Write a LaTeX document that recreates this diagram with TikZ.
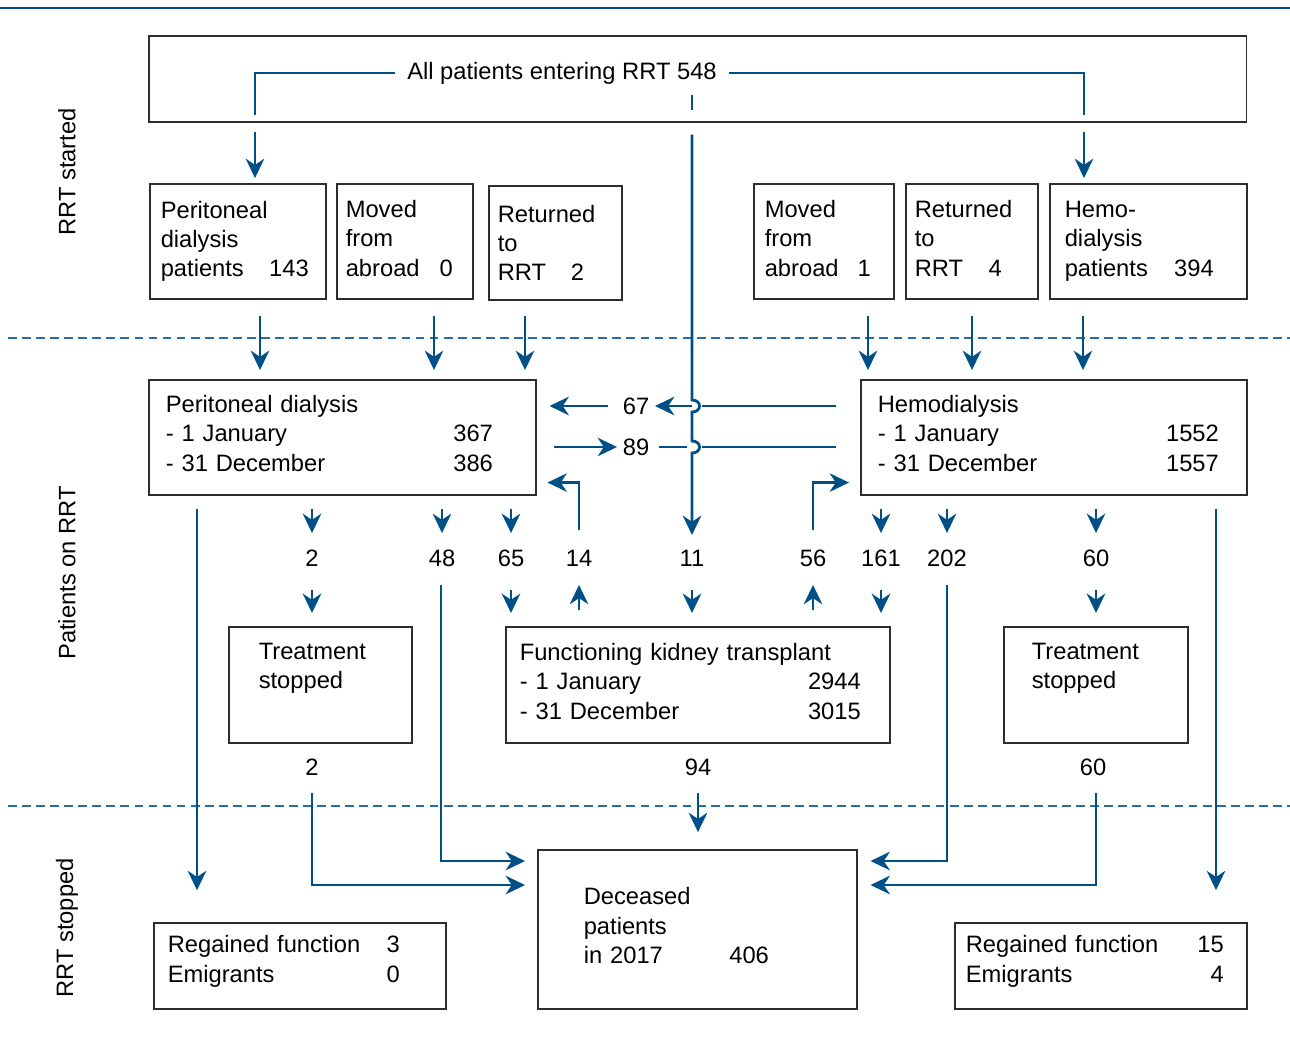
\documentclass[tikz,border=0pt]{standalone}
\usepackage{fontspec}
\setmainfont{Liberation Sans}
\usetikzlibrary{arrows.meta,calc}
\definecolor{rrtblue}{RGB}{0,80,135}
\definecolor{sepblue}{RGB}{40,110,165}
\definecolor{boxgray}{RGB}{45,45,45}
\newcommand{\rnum}[2][0pt]{\hfill#2\kern#1\relax}
\tikzset{
  cbox/.style={draw=boxgray,line width=0.9pt,anchor=north west,align=left},
  lift/.style={execute at end node={\par\kern#1\relax}},
  num/.style={inner sep=2pt},
  arr/.style={-{Stealth[length=11pt,width=10.5pt,inset=3.5pt]},line width=1.6pt,draw=rrtblue},
  conn/.style={line width=1.6pt,draw=rrtblue},
  sepline/.style={draw=sepblue,line width=0.9pt,dash pattern=on 5pt off 3pt},
}

\begin{document}
\begin{tikzpicture}[x=0.02cm,y=-0.02cm,font=\fontsize{13.5}{16.7}\selectfont]
  \useasboundingbox (0,0) rectangle (1290,1046);
  % rules
  \draw[rrtblue,line width=1.4pt] (0,8) -- (1290,8);
  \draw[sepline] (8,338) -- (1290,338);
  \draw[sepline] (8,806) -- (1290,806);

  % side labels
  \node[rotate=90] (lstart) at (67,172) {RRT started};
  \node[rotate=90] (lon)    at (67,573) {Patients on RRT};
  \node[rotate=90] (lstop)  at (67,928) {RRT stopped};

  % boxes
  \node[cbox,minimum width=21.96cm,minimum height=1.72cm,inner sep=0pt]
        (top) at (148,35) {};
  \node[inner xsep=6.8pt] (allp) at (562,73) {All patients entering RRT 548};

  \node[cbox,inner xsep=0.22cm,text width=3.08cm,minimum height=2.3cm]
        (pdp) at (149,183) {Peritoneal\\dialysis\\patients\rnum[3.4pt]{143}};
  \node[cbox,lift=3.4pt,inner xsep=0.18cm,text width=2.36cm,minimum height=2.3cm]
        (mfa1) at (336,183) {Moved\\from\\abroad\rnum[6.2pt]{0}};
  \node[cbox,inner xsep=0.18cm,text width=2.30cm,minimum height=2.28cm]
        (rr1) at (488,185) {Returned\\to\\RRT\rnum[16.4pt]{2}};
  \node[cbox,lift=3.4pt,inner xsep=0.22cm,text width=2.36cm,minimum height=2.3cm]
        (mfa2) at (753,183) {Moved\\from\\abroad\rnum[6.8pt]{1}};
  \node[cbox,lift=3.4pt,inner xsep=0.18cm,text width=2.28cm,minimum height=2.3cm]
        (rr2) at (905,183) {Returned\\to\\RRT\rnum[15.3pt]{4}};
  \node[cbox,inner xsep=0.30cm,text width=3.34cm,minimum height=2.3cm]
        (hdp) at (1049,183) {Hemo-\\dialysis\\patients\rnum[10.2pt]{394}};

  \node[cbox,lift=4.5pt,inner xsep=0.34cm,text width=7.06cm,minimum height=2.3cm]
        (pd) at (148,379) {Peritoneal dialysis\\- 1 January\rnum[14.7pt]{367}\\- 31 December\rnum[14.7pt]{386}};
  \node[cbox,lift=4.5pt,inner xsep=0.34cm,text width=7.04cm,minimum height=2.3cm]
        (hd) at (860,379) {Hemodialysis\\- 1 January\rnum[6.2pt]{1552}\\- 31 December\rnum[6.2pt]{1557}};

  \node[cbox,inner xsep=0.60cm,text width=2.46cm,minimum height=2.32cm]
        (ts1) at (228,626) {Treatment\\stopped\\\strut};
  \node[cbox,lift=4pt,inner xsep=0.28cm,text width=7.12cm,minimum height=2.32cm]
        (fkt) at (505,626) {Functioning kidney transplant\\- 1 January\rnum[8.5pt]{2944}\\- 31 December\rnum[8.5pt]{3015}};
  \node[cbox,inner xsep=0.56cm,text width=2.56cm,minimum height=2.32cm]
        (ts2) at (1003,626) {Treatment\\stopped\\\strut};

  \node[cbox,lift=5.1pt,inner xsep=0.28cm,text width=5.28cm,minimum height=1.72cm]
        (rf1) at (153,922) {Regained function\rnum[18.1pt]{3}\\Emigrants\rnum[18.1pt]{0}};
  \node[cbox,lift=4pt,inner xsep=0.92cm,text width=4.54cm,minimum height=3.18cm]
        (dec) at (537,849) {Deceased\\patients\\in 2017\rnum[23.8pt]{406}};
  \node[cbox,lift=5.1pt,inner xsep=0.22cm,text width=5.40cm,minimum height=1.72cm]
        (rf2) at (954,922) {Regained function\rnum[6.8pt]{15}\\Emigrants\rnum[6.8pt]{4}};

  % numbers
  \node[num] (n67)  at (636,406) {67};
  \node[num] (n89)  at (636,447) {89};
  \node[num] (n2a)  at (312,558) {2};
  \node[num] (n48)  at (442,558) {48};
  \node[num] (n65)  at (511,558) {65};
  \node[num] (n14)  at (579,558) {14};
  \node[num] (n11)  at (692,558) {11};
  \node[num] (n56)  at (813,558) {56};
  \node[num] (n161) at (881,558) {161};
  \node[num] (n202) at (947,558) {202};
  \node[num] (n60a) at (1096,558) {60};
  \node[num] (n2b)  at (312,767) {2};
  \node[num] (n94)  at (698,767) {94};
  \node[num] (n60b) at (1093,767) {60};

  % guides
  \coordinate (xl) at (255,73);
  \coordinate (xr) at (1084,73);
  \coordinate (xa) at (260,0);
  \coordinate (xb) at (434,0);
  \coordinate (xc) at (525,0);
  \coordinate (xd) at (868,0);
  \coordinate (xe) at (972,0);
  \coordinate (xf) at (1083,0);
  \coordinate (xg) at (197,0);
  \coordinate (xh) at (1216,0);
  \coordinate (c11) at (n11 |- top.south);
  \coordinate (j67) at (n11 |- n67);
  \coordinate (j89) at (n11 |- n89);

  % RRT started
  \draw[conn,shorten >=4.5pt] (allp.west) -- (xl) -- (xl |- top.south);
  \draw[arr,shorten <=5.1pt,shorten >=2.8pt] (xl |- top.south) -- (xl |- pdp.north);
  \draw[conn,shorten >=4.5pt] (allp.east) -- (xr) -- (xr |- top.south);
  \draw[arr,shorten <=5.1pt,shorten >=2.8pt] (xr |- top.south) -- (xr |- hdp.north);
  \draw[conn,shorten <=2.8pt,shorten >=7.4pt] (allp.south -| n11) -- (c11);
  \draw[arr] ($(c11)+(0,12)$) -- ($(j67)+(0,-6)$)
        .. controls +(10,0) and +(10,0) .. ($(j67)+(0,6)$) -- ($(j89)+(0,-6)$)
        .. controls +(10,0) and +(10,0) .. ($(j89)+(0,6)$) -- ($(n11.center)+(0,-23)$);

  \draw[arr,shorten <=9.6pt,shorten >=5.1pt] (xa |- pdp.south) -- (xa |- pd.north);
  \draw[arr,shorten <=9.6pt,shorten >=5.1pt] (xb |- mfa1.south) -- (xb |- pd.north);
  \draw[arr,shorten <=9.6pt,shorten >=5.1pt] (xc |- mfa1.south) -- (xc |- pd.north);
  \draw[arr,shorten <=9.6pt,shorten >=5.1pt] (xd |- mfa2.south) -- (xd |- hd.north);
  \draw[arr,shorten <=9.6pt,shorten >=5.1pt] (xe |- rr2.south) -- (xe |- hd.north);
  \draw[arr,shorten <=9.6pt,shorten >=5.1pt] (xf |- hdp.south) -- (xf |- hd.north);

  % transfers between dialysis modes
  \draw[conn,shorten <=13.6pt,shorten >=5.7pt] (n67 -| hd.west) -- (j67);
  \draw[arr,shorten >=10.8pt] (j67) -- (n67.center);
  \draw[arr,shorten <=15.9pt,shorten >=7.4pt] (n67.center) -- (n67 -| pd.east);
  \draw[arr,shorten <=10.2pt,shorten >=10.8pt] (n89 -| pd.east) -- (n89.center);
  \draw[conn,shorten <=13pt,shorten >=2.8pt] (n89.center) -- (j89);
  \draw[conn,shorten <=5.7pt,shorten >=13.6pt] (j89) -- (n89 -| hd.west);

  % patients on RRT
  \draw[arr,shorten <=7.4pt,shorten >=14.2pt] (n2a |- pd.south) -- (n2a.center);
  \draw[arr,shorten <=7.4pt,shorten >=14.2pt] (n48 |- pd.south) -- (n48.center);
  \draw[arr,shorten <=7.4pt,shorten >=14.2pt] (n65 |- pd.south) -- (n65.center);
  \draw[arr,shorten <=7.4pt,shorten >=14.2pt] (n161 |- hd.south) -- (n161.center);
  \draw[arr,shorten <=7.4pt,shorten >=14.2pt] (n202 |- hd.south) -- (n202.center);
  \draw[arr,shorten <=7.4pt,shorten >=14.2pt] (n60a |- hd.south) -- (n60a.center);

  \draw[arr,shorten <=18.1pt,shorten >=7.4pt] (n2a.center) -- (n2a |- ts1.north);
  \draw[arr,shorten <=18.1pt,shorten >=7.4pt] (n65.center) -- (n65 |- fkt.north);
  \draw[arr,shorten <=18.1pt,shorten >=7.4pt] (n11.center) -- (n11 |- fkt.north);
  \draw[arr,shorten <=18.1pt,shorten >=7.4pt] (n161.center) -- (n161 |- fkt.north);
  \draw[arr,shorten <=18.1pt,shorten >=7.4pt] (n60a.center) -- (n60a |- ts2.north);

  \draw[arr,shorten <=9.1pt,shorten >=15.3pt] (n14 |- fkt.north) -- (n14.center);
  \draw[arr,shorten <=9.1pt,shorten >=15.3pt] (n56 |- fkt.north) -- (n56.center);
  \draw[arr] ($(n14.center)+(0,-28)$) |- ($(pd.south east)+(11,-13)$);
  \draw[arr] ($(n56.center)+(0,-28)$) |- ($(hd.south west)+(-11,-13)$);

  % RRT stopped
  \draw[arr,shorten <=7.4pt,shorten >=18.1pt] (xg |- pd.south) -- (xg |- rf1.north);
  \draw[arr,shorten <=7.4pt,shorten >=18.1pt] (xh |- hd.south) -- (xh |- rf2.north);
  \draw[arr] ($(n48.center)+(-1,27)$) |- ($(dec.north west)+(-12,12)$);
  \draw[arr] ($(n202.center)+(0,27)$) |- ($(dec.north east)+(13,12)$);
  \draw[arr] ($(n2b.center)+(0,26)$) |- ($(dec.north west)+(-12,36)$);
  \draw[arr] ($(n60b.center)+(3,26)$) |- ($(dec.north east)+(13,36)$);
  \draw[arr,shorten <=14.7pt,shorten >=9.6pt] (n94.center) -- (n94 |- dec.north);
\end{tikzpicture}
\end{document}
